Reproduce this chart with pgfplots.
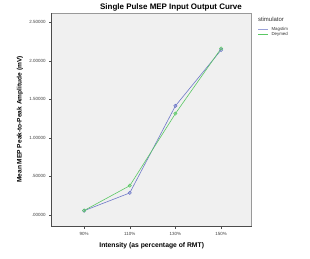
\documentclass[border=0pt]{standalone}
\usepackage{pgfplots}
\pgfplotsset{compat=1.18}
\usepackage{fontspec}
\setmainfont{Liberation Sans}
\definecolor{magblue}{RGB}{110,120,200}
\definecolor{deygreen}{RGB}{90,200,100}
\definecolor{plotbg}{RGB}{240,240,240}
\begin{document}
\begin{tikzpicture}[x=1bp,y=1bp]
\useasboundingbox[fill=white] (0,0) rectangle (310,259);
\begin{axis}[
  at={(51.7bp,32.3bp)}, anchor=south west,
  scale only axis, width=200bp, height=213.7bp,
  axis background/.style={fill=plotbg, draw=black!40, line width=0.5pt},
  xmin=-0.71, xmax=3.67, ymin=-0.152, ymax=2.62,
  xtick={0,1,2,3}, xticklabels={90\%,110\%,130\%,150\%},
  ytick={0,0.5,1,1.5,2,2.5},
  yticklabels={.00000,.50000,1.00000,1.50000,2.00000,2.50000},
  axis x line*=bottom, axis y line*=left,
  tick align=outside,
  major tick length=2.5bp,
  tick style={black!70, line width=0.5pt},
  ticklabel style={font=\fontsize{4.5}{5}\selectfont, text=black!75},
  axis line style={black!70, line width=0.6pt, -},
  enlargelimits=false,
  clip=false,
]
\addplot[magblue, line width=0.6pt, mark=o, mark size=1.6pt] coordinates {(0,0.056) (1,0.286) (2,1.416) (3,2.14)};
\addplot[deygreen, line width=0.6pt, mark=o, mark size=1.6pt] coordinates {(0,0.058) (1,0.38) (2,1.316) (3,2.16)};
\end{axis}
\node[font=\bfseries\fontsize{8}{9}\selectfont] at (171,252) {Single Pulse MEP Input Output Curve};
\node[font=\bfseries\fontsize{6.6}{7}\selectfont, rotate=90] at (20,139.5) {Mean MEP Peak-to-Peak Amplitude (mV)};
\node[font=\bfseries\fontsize{6.8}{7}\selectfont] at (151.7,13) {Intensity (as percentage of RMT)};
\node[font=\fontsize{6}{7}\selectfont, text=black!80, anchor=west] at (254.5,239.5) {stimulator};
\draw[magblue!70, line width=0.7pt] (258,229.7) -- (268,229.7);
\node[font=\fontsize{4.4}{5}\selectfont, text=black!80, anchor=west] at (268,229.7) {Magstim};
\draw[deygreen, line width=0.7pt] (258,224.3) -- (268,224.3);
\node[font=\fontsize{4.4}{5}\selectfont, text=black!80, anchor=west] at (268,224.3) {Deymed};
\end{tikzpicture}
\end{document}
